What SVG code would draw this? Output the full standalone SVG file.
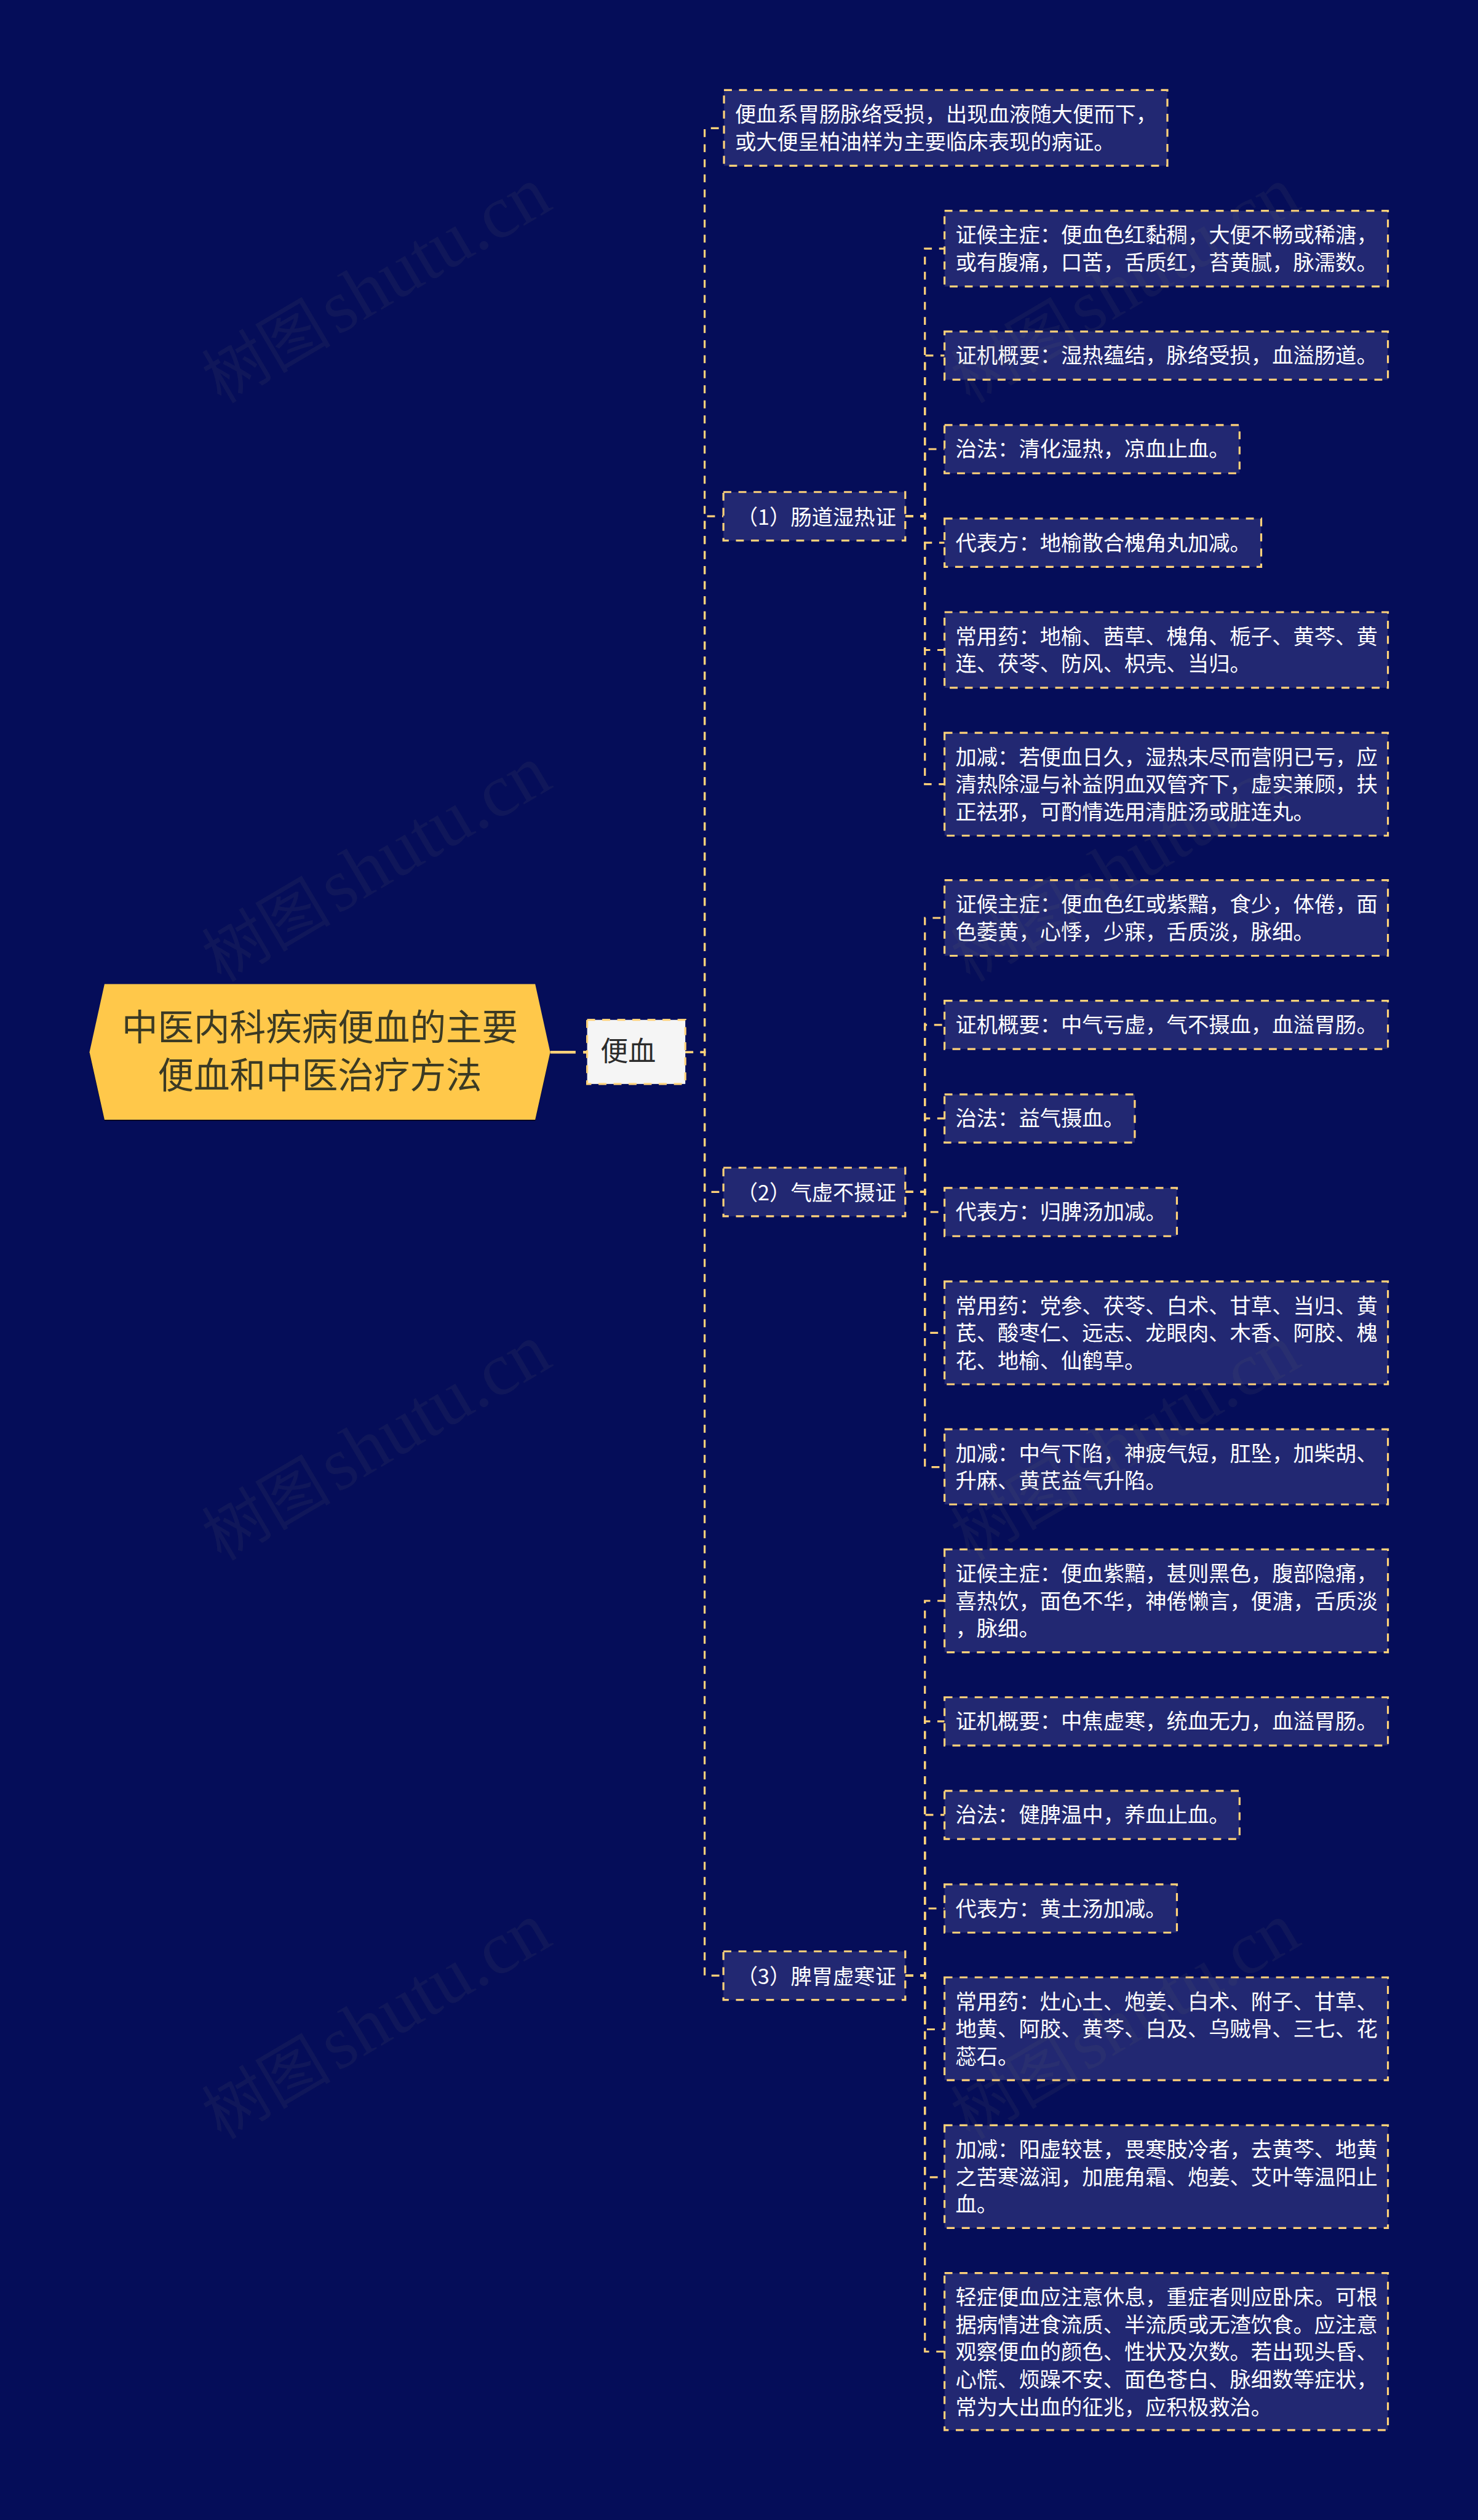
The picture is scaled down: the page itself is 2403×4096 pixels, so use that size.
<svg xmlns="http://www.w3.org/2000/svg" width="2403" height="4096" viewBox="0 0 2403 4096">
<style>
text{font-family:"Noto Sans CJK SC","Liberation Sans",sans-serif}
.t{font-size:36.57px;fill:#fff}
.b{fill:#222872;stroke:#ffd27a;stroke-width:3.4;stroke-dasharray:13.7 12.4}
.c{fill:none;stroke:#ffd27a;stroke-width:3.4;stroke-dasharray:13.7 12.4}
.w{font-family:"Liberation Serif","Noto Sans CJK SC",serif;font-size:130px;fill:#646464;fill-opacity:.12}
.w .z{font-size:112px}
.w .s{font-size:40px}
</style>
<rect width="2403" height="4096" fill="#050d59"/>
<g transform="scale(0.93867)">
<g id="connectors">
<path d="M953 1822H997M1010 1822H1017" fill="none" stroke="#ffd27a" stroke-width="5"/>
<path class="c" d="M1187 1822H1220.5V222H1254"/>
<path class="c" d="M1187 1822H1220.5V894H1253"/>
<path class="c" d="M1187 1822H1220.5V2064H1253"/>
<path class="c" d="M1187 1822H1220.5V3421H1253"/>
<path class="c" d="M1568 894H1602V430.5H1636"/>
<path class="c" d="M1568 894H1602V615.7H1636"/>
<path class="c" d="M1568 894H1602V777.7H1636"/>
<path class="c" d="M1568 894H1602V939.7H1636"/>
<path class="c" d="M1568 894H1602V1125.5H1636"/>
<path class="c" d="M1568 894H1602V1358H1636"/>
<path class="c" d="M1568 2064H1602V1589.5H1636"/>
<path class="c" d="M1568 2064H1602V1774.7H1636"/>
<path class="c" d="M1568 2064H1602V1936.7H1636"/>
<path class="c" d="M1568 2064H1602V2098.7H1636"/>
<path class="c" d="M1568 2064H1602V2308H1636"/>
<path class="c" d="M1568 2064H1602V2540.5H1636"/>
<path class="c" d="M1568 3421H1602V2772H1636"/>
<path class="c" d="M1568 3421H1602V2980.7H1636"/>
<path class="c" d="M1568 3421H1602V3142.7H1636"/>
<path class="c" d="M1568 3421H1602V3304.7H1636"/>
<path class="c" d="M1568 3421H1602V3514H1636"/>
<path class="c" d="M1568 3421H1602V3770H1636"/>
<path class="c" d="M1568 3421H1602V4072H1636"/>
</g>
<g id="root">
<polygon points="155,1822 181,1704 927,1704 953,1822 927,1939 181,1939" fill="#000" opacity=".6" transform="translate(0,2)"/>
<polygon points="155,1822 181,1704 927,1704 953,1822 927,1939 181,1939" fill="#ffc84a"/>
<text x="554" y="1802" text-anchor="middle" font-size="62.4" fill="#3b3a24">中医内科疾病便血的主要</text>
<text x="554" y="1884.5" text-anchor="middle" font-size="62.4" fill="#3b3a24">便血和中医治疗方法</text>
</g>
<g id="main">
<rect x="1017" y="1766" width="170" height="111" fill="#f5f5f5" stroke="#ffd27a" stroke-width="3.4" stroke-dasharray="13.7 12.4"/>
<text x="1040" y="1838" font-size="48" fill="#2b2b2b">便血</text>
</g>
<g id="intro">
<rect class="b" x="1254" y="156" width="768" height="131"/>
<text class="t" x="1273" y="211">便血系胃肠脉络受损，出现血液随大便而下，</text>
<text class="t" x="1273" y="258.5">或大便呈柏油样为主要临床表现的病证。</text>
</g>
<g id="branch1">
<rect class="b" x="1253" y="852" width="315" height="84"/>
<text class="t" x="1276" y="909">（1）肠道湿热证</text>
</g>
<g id="branch2">
<rect class="b" x="1253" y="2022" width="315" height="84"/>
<text class="t" x="1276" y="2079">（2）气虚不摄证</text>
</g>
<g id="branch3">
<rect class="b" x="1253" y="3379" width="315" height="84"/>
<text class="t" x="1276" y="3436">（3）脾胃虚寒证</text>
</g>
<g id="n1-1">
<rect class="b" x="1636" y="365" width="768" height="131"/>
<text class="t" x="1655" y="420">证候主症：便血色红黏稠，大便不畅或稀溏，</text>
<text class="t" x="1655" y="467.5">或有腹痛，口苦，舌质红，苔黄腻，脉濡数。</text>
</g>
<g id="n1-2">
<rect class="b" x="1636" y="574" width="768" height="83.5"/>
<text class="t" x="1655" y="629">证机概要：湿热蕴结，脉络受损，血溢肠道。</text>
</g>
<g id="n1-3">
<rect class="b" x="1636" y="736" width="511" height="83.5"/>
<text class="t" x="1655" y="791">治法：清化湿热，凉血止血。</text>
</g>
<g id="n1-4">
<rect class="b" x="1636" y="898" width="548.5" height="83.5"/>
<text class="t" x="1655" y="953">代表方：地榆散合槐角丸加减。</text>
</g>
<g id="n1-5">
<rect class="b" x="1636" y="1060" width="768" height="131"/>
<text class="t" x="1655" y="1115">常用药：地榆、茜草、槐角、栀子、黄芩、黄</text>
<text class="t" x="1655" y="1162.5">连、茯苓、防风、枳壳、当归。</text>
</g>
<g id="n1-6">
<rect class="b" x="1636" y="1269" width="768" height="178"/>
<text class="t" x="1655" y="1324">加减：若便血日久，湿热未尽而营阴已亏，应</text>
<text class="t" x="1655" y="1371.5">清热除湿与补益阴血双管齐下，虚实兼顾，扶</text>
<text class="t" x="1655" y="1419">正祛邪，可酌情选用清脏汤或脏连丸。</text>
</g>
<g id="n2-1">
<rect class="b" x="1636" y="1524" width="768" height="131"/>
<text class="t" x="1655" y="1579">证候主症：便血色红或紫黯，食少，体倦，面</text>
<text class="t" x="1655" y="1626.5">色萎黄，心悸，少寐，舌质淡，脉细。</text>
</g>
<g id="n2-2">
<rect class="b" x="1636" y="1733" width="768" height="83.5"/>
<text class="t" x="1655" y="1788">证机概要：中气亏虚，气不摄血，血溢胃肠。</text>
</g>
<g id="n2-3">
<rect class="b" x="1636" y="1895" width="329.5" height="83.5"/>
<text class="t" x="1655" y="1950">治法：益气摄血。</text>
</g>
<g id="n2-4">
<rect class="b" x="1636" y="2057" width="402.5" height="83.5"/>
<text class="t" x="1655" y="2112">代表方：归脾汤加减。</text>
</g>
<g id="n2-5">
<rect class="b" x="1636" y="2219" width="768" height="178"/>
<text class="t" x="1655" y="2274">常用药：党参、茯苓、白术、甘草、当归、黄</text>
<text class="t" x="1655" y="2321.5">芪、酸枣仁、远志、龙眼肉、木香、阿胶、槐</text>
<text class="t" x="1655" y="2369">花、地榆、仙鹤草。</text>
</g>
<g id="n2-6">
<rect class="b" x="1636" y="2475" width="768" height="130"/>
<text class="t" x="1655" y="2530">加减：中气下陷，神疲气短，肛坠，加柴胡、</text>
<text class="t" x="1655" y="2577.5">升麻、黄芪益气升陷。</text>
</g>
<g id="n3-1">
<rect class="b" x="1636" y="2683" width="768" height="178"/>
<text class="t" x="1655" y="2738">证候主症：便血紫黯，甚则黑色，腹部隐痛，</text>
<text class="t" x="1655" y="2785.5">喜热饮，面色不华，神倦懒言，便溏，舌质淡</text>
<text class="t" x="1655" y="2833">，脉细。</text>
</g>
<g id="n3-2">
<rect class="b" x="1636" y="2939" width="768" height="83.5"/>
<text class="t" x="1655" y="2994">证机概要：中焦虚寒，统血无力，血溢胃肠。</text>
</g>
<g id="n3-3">
<rect class="b" x="1636" y="3101" width="511" height="83.5"/>
<text class="t" x="1655" y="3156">治法：健脾温中，养血止血。</text>
</g>
<g id="n3-4">
<rect class="b" x="1636" y="3263" width="402.5" height="83.5"/>
<text class="t" x="1655" y="3318">代表方：黄土汤加减。</text>
</g>
<g id="n3-5">
<rect class="b" x="1636" y="3424" width="768" height="178"/>
<text class="t" x="1655" y="3479">常用药：灶心土、炮姜、白术、附子、甘草、</text>
<text class="t" x="1655" y="3526.5">地黄、阿胶、黄芩、白及、乌贼骨、三七、花</text>
<text class="t" x="1655" y="3574">蕊石。</text>
</g>
<g id="n3-6">
<rect class="b" x="1636" y="3680" width="768" height="178"/>
<text class="t" x="1655" y="3735">加减：阳虚较甚，畏寒肢冷者，去黄芩、地黄</text>
<text class="t" x="1655" y="3782.5">之苦寒滋润，加鹿角霜、炮姜、艾叶等温阳止</text>
<text class="t" x="1655" y="3830">血。</text>
</g>
<g id="n3-7">
<rect class="b" x="1636" y="3936" width="768" height="272"/>
<text class="t" x="1655" y="3991">轻症便血应注意休息，重症者则应卧床。可根</text>
<text class="t" x="1655" y="4038.5">据病情进食流质、半流质或无渣饮食。应注意</text>
<text class="t" x="1655" y="4086">观察便血的颜色、性状及次数。若出现头昏、</text>
<text class="t" x="1655" y="4133.5">心慌、烦躁不安、面色苍白、脉细数等症状，</text>
<text class="t" x="1655" y="4181">常为大出血的征兆，应积极救治。</text>
</g>
<g id="watermark">
<text class="w" transform="translate(383,700) rotate(-30.5)"><tspan class="z">树图</tspan><tspan class="s"> </tspan>shutu.cn</text>
<text class="w" transform="translate(383,1702) rotate(-30.5)"><tspan class="z">树图</tspan><tspan class="s"> </tspan>shutu.cn</text>
<text class="w" transform="translate(383,2704) rotate(-30.5)"><tspan class="z">树图</tspan><tspan class="s"> </tspan>shutu.cn</text>
<text class="w" transform="translate(383,3706) rotate(-30.5)"><tspan class="z">树图</tspan><tspan class="s"> </tspan>shutu.cn</text>
<text class="w" transform="translate(1680,700) rotate(-30.5)"><tspan class="z">树图</tspan><tspan class="s"> </tspan>shutu.cn</text>
<text class="w" transform="translate(1680,1702) rotate(-30.5)"><tspan class="z">树图</tspan><tspan class="s"> </tspan>shutu.cn</text>
<text class="w" transform="translate(1680,2704) rotate(-30.5)"><tspan class="z">树图</tspan><tspan class="s"> </tspan>shutu.cn</text>
<text class="w" transform="translate(1680,3706) rotate(-30.5)"><tspan class="z">树图</tspan><tspan class="s"> </tspan>shutu.cn</text>
</g>
</g>
</svg>
